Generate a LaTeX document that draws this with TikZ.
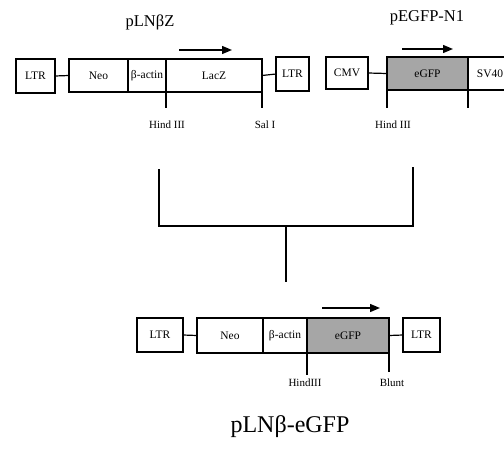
\documentclass[tikz,border=0pt]{standalone}
\usepackage{fontspec}
\setmainfont{Liberation Serif}
\usetikzlibrary{arrows.meta}
\begin{document}
\begin{tikzpicture}[x=1pt,y=-1pt,
 box/.style={draw, line width=1.2pt, inner sep=0pt, outer sep=0pt, font=\fontsize{11.5}{13}\selectfont},
 gfp/.style={box, fill=black!35},
 link/.style={line width=1.2pt},
 cut/.style={line width=1.1pt},
 dirarrow/.style={line width=1.4pt, -{Triangle[length=10pt,width=8pt]}},
 lab/.style={font=\fontsize{11}{13}\selectfont, inner sep=1pt},
 title/.style={font=\fontsize{16.5}{19}\selectfont},
 bigtitle/.style={font=\fontsize{24}{28}\selectfont}]
\useasboundingbox (0,0) rectangle (504,450);
\clip (0,0) rectangle (504,450);

% ---- top left: pLNbetaZ
\node[title] (tA) at (150,22) {pLNβZ};
\node[box, minimum width=39pt, minimum height=34pt] (ltrA) at (35.5,76) {LTR};
\node[box, minimum width=59pt, minimum height=33pt] (neoA) at (98.5,75.5) {Neo};
\node[box, minimum width=38pt, minimum height=33pt] (actA) at (147,75.5) {β-actin};
\node[box, minimum width=96pt, minimum height=33pt] (lacA) at (214,75.5) {LacZ};
\node[box, minimum width=33pt, minimum height=34pt] (ltrB) at (292.5,74) {LTR};
\draw[link] (ltrA.east) -- (neoA.west);
\draw[link] (lacA.east) -- (ltrB.west);
\coordinate (hAend) at (166,108);
\coordinate (sAend) at (262,108);
\draw[cut] (lacA.south west) -- (hAend);
\draw[cut] (lacA.south east) -- (sAend);
\node[lab] (hAlab) at (167,125) {Hind III};
\node[lab] (sAlab) at (265,125) {Sal I};
\coordinate (arA1) at (179,50);
\coordinate (arA2) at (232,50);
\draw[dirarrow] (arA1) -- (arA2);

% ---- top right: pEGFP-N1
\node[title] (tB) at (427,18) {pEGFP-N1};
\node[box, minimum width=42pt, minimum height=32pt] (cmv) at (347,73) {CMV};
\node[gfp, minimum width=81pt, minimum height=33pt] (gfpA) at (427.5,73.5) {eGFP};
\node[box, minimum width=44pt, minimum height=33pt] (sv) at (490,73.5) {SV40};
\draw[link] (cmv.east) -- (gfpA.west);
\coordinate (hBend) at (387,108);
\coordinate (eBend) at (468,108);
\draw[cut] (gfpA.south west) -- (hBend);
\draw[cut] (gfpA.south east) -- (eBend);
\node[lab] (hBlab) at (393,125) {Hind III};
\coordinate (arB1) at (402,49);
\coordinate (arB2) at (453,49);
\draw[dirarrow] (arB1) -- (arB2);

% ---- bracket
\coordinate (brL) at (159,169);
\coordinate (brLb) at (159,226);
\coordinate (brRb) at (413,226);
\coordinate (brR) at (413,167);
\coordinate (stemTop) at (286,226);
\coordinate (stemBot) at (286,282);
\draw[link] (brL) -- (brLb) -- (brRb) -- (brR);
\draw[link] (stemTop) -- (stemBot);

% ---- bottom: pLNbeta-eGFP
\node[box, minimum width=46pt, minimum height=34pt] (ltrC) at (160,335) {LTR};
\node[box, minimum width=66pt, minimum height=35pt] (neoC) at (230,335.5) {Neo};
\node[box, minimum width=44pt, minimum height=35pt] (actC) at (285,335.5) {β-actin};
\node[gfp, minimum width=82pt, minimum height=35pt] (gfpC) at (348,335.5) {eGFP};
\node[box, minimum width=37pt, minimum height=34pt] (ltrD) at (421.5,335) {LTR};
\draw[link] (ltrC.east) -- (neoC.west);
\draw[link] (gfpC.east) -- (ltrD.west);
\coordinate (hCend) at (307,375);
\coordinate (bCend) at (389,372);
\draw[cut] (gfpC.south west) -- (hCend);
\draw[cut] (gfpC.south east) -- (bCend);
\node[lab] (hClab) at (305,383) {HindIII};
\node[lab] (bClab) at (392,383) {Blunt};
\coordinate (arC1) at (322,308);
\coordinate (arC2) at (380,308);
\draw[dirarrow] (arC1) -- (arC2);
\node[bigtitle] (tC) at (290,427) {pLNβ-eGFP};
\end{tikzpicture}
\end{document}
